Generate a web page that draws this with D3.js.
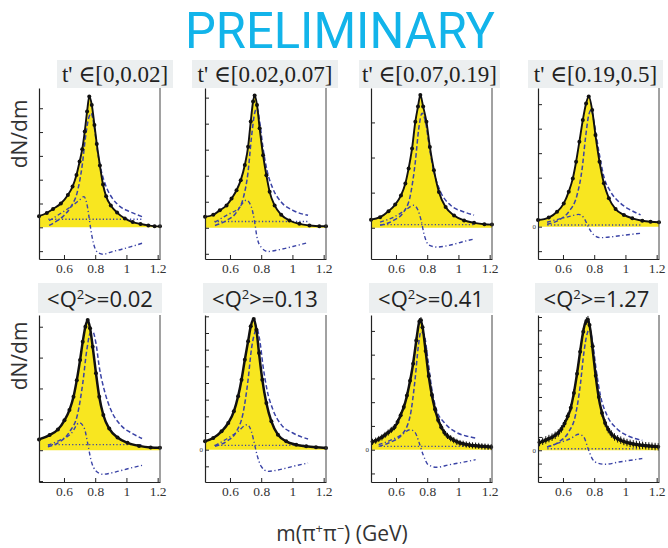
<!DOCTYPE html>
<html>
<head>
<meta charset="utf-8">
<script src="https://cdn.jsdelivr.net/npm/d3@7"></script>
<style>
  body { margin: 0; background: #fff; }
  svg { display: block; }
</style>
</head>
<body>
<script>
'use strict';

// ---- chart values (y in units of each panel's tick step) ----
const xDomain = [0.44, 1.215];
const xTicks = [0.6, 0.8, 1.0, 1.2];
const xTickLabels = ["0.6", "0.8", "1", "1.2"];

const tRanges = ["[0,0.02]", "[0.02,0.07]", "[0.07,0.19]", "[0.19,0.5]"];
const q2Values = ["0.02", "0.13", "0.41", "1.27"];

// y axis range of each panel (tick units)
const yDomains = [[-1.33, 5.85], [-1.2, 5.37], [-0.89, 3.98], [-1.32, 5.66],
                  [-1.03, 4.38], [-1.94, 8.08], [-1.36, 5.67], [-2.38, 10.15]];
const zeroLabel = [false, false, false, true, false, true, true, true];

// flat background level, drawn between 0.5 and 1.1
const bgLevels = [0.34, 0.24, 0.09, 0.07, 0.18, 0.26, 0.14, 0.12];
const bgRange = [0.5, 1.1];

// total fit (black line + yellow area), also the data points of panels 1-6
const fit1 = [[0.44,0.47],[0.49,0.6],[0.53,0.77],[0.58,1.0],[0.625,1.36],[0.655,1.71],[0.68,2.2],[0.70,2.76],[0.717,3.28],[0.733,4.02],[0.748,4.86],[0.762,5.49],[0.778,5.14],[0.795,4.3],[0.81,3.5],[0.83,2.6],[0.85,1.8],[0.87,1.3],[0.90,0.92],[0.94,0.62],[0.99,0.37],[1.04,0.22],[1.09,0.14],[1.14,0.08],[1.18,0.05],[1.215,0.04]];
const fit2 = [[0.44,0.42],[0.493,0.5],[0.535,0.67],[0.578,0.86],[0.61,1.12],[0.642,1.44],[0.669,1.83],[0.695,2.41],[0.716,3.11],[0.733,4.08],[0.748,4.85],[0.758,5.08],[0.773,4.72],[0.79,3.82],[0.812,2.79],[0.833,2.02],[0.854,1.38],[0.886,0.86],[0.928,0.5],[0.981,0.28],[1.045,0.15],[1.109,0.09],[1.172,0.06],[1.215,0.06]];
const fit3 = [[0.44,0.23],[0.498,0.3],[0.552,0.47],[0.595,0.66],[0.632,0.92],[0.66,1.26],[0.681,1.69],[0.703,2.26],[0.724,3.02],[0.741,3.45],[0.756,3.78],[0.774,3.45],[0.795,3.02],[0.817,2.3],[0.843,1.64],[0.875,1.02],[0.918,0.59],[0.972,0.35],[1.036,0.21],[1.1,0.14],[1.166,0.1],[1.215,0.09]];
const fit4 = [[0.44,0.27],[0.509,0.37],[0.562,0.61],[0.605,0.95],[0.637,1.43],[0.663,1.97],[0.684,2.65],[0.705,3.47],[0.727,4.35],[0.748,5.03],[0.765,5.31],[0.787,4.76],[0.808,3.74],[0.834,2.65],[0.862,1.77],[0.894,1.16],[0.937,0.72],[0.99,0.48],[1.044,0.34],[1.108,0.24],[1.161,0.2],[1.215,0.18]];
const fit5 = [[0.44,0.35],[0.508,0.49],[0.561,0.67],[0.603,0.97],[0.635,1.3],[0.661,1.73],[0.682,2.27],[0.703,2.92],[0.72,3.51],[0.737,4.0],[0.752,4.22],[0.767,3.95],[0.784,3.35],[0.805,2.49],[0.826,1.73],[0.852,1.14],[0.89,0.7],[0.943,0.41],[1.007,0.24],[1.081,0.14],[1.155,0.09],[1.215,0.08]];
const fit6 = [[0.44,0.5],[0.493,0.7],[0.546,1.1],[0.589,1.6],[0.625,2.3],[0.652,3.2],[0.674,4.2],[0.695,5.4],[0.716,6.5],[0.733,7.4],[0.752,7.84],[0.769,7.2],[0.786,5.8],[0.807,4.2],[0.833,2.8],[0.865,1.7],[0.907,0.9],[0.96,0.5],[1.024,0.3],[1.088,0.2],[1.151,0.14],[1.215,0.1]];
const fit7 = [[0.44,0.31],[0.499,0.49],[0.552,0.73],[0.595,0.98],[0.626,1.4],[0.658,1.96],[0.683,2.66],[0.705,3.43],[0.722,4.2],[0.738,4.97],[0.753,5.48],[0.77,5.17],[0.789,4.2],[0.81,3.08],[0.838,2.03],[0.87,1.26],[0.912,0.7],[0.965,0.42],[1.029,0.25],[1.092,0.18],[1.156,0.14],[1.215,0.11]];
const fit8 = [[0.44,0.55],[0.487,0.75],[0.541,1.05],[0.583,1.5],[0.62,2.25],[0.648,3.1],[0.669,4.25],[0.69,5.75],[0.708,7.25],[0.727,8.75],[0.744,9.6],[0.759,9.8],[0.776,9.0],[0.793,7.25],[0.813,5.25],[0.836,3.5],[0.868,2.1],[0.905,1.3],[0.958,0.8],[1.022,0.55],[1.087,0.4],[1.151,0.33],[1.215,0.25]];

// denser data points of the two high-Q2 panels, with error size
const pts7 = [[0.45,0.33],[0.47,0.38],[0.49,0.45],[0.51,0.52],[0.53,0.62],[0.55,0.72],[0.57,0.83],[0.59,0.95],[0.61,1.17],[0.63,1.45],[0.65,1.8],[0.67,2.28],[0.69,2.9],[0.71,3.62],[0.73,4.6],[0.75,5.4],[0.76,5.45],[0.77,5.15],[0.79,4.15],[0.81,3.1],[0.83,2.3],[0.85,1.7],[0.87,1.25],[0.89,0.95],[0.91,0.72],[0.93,0.58],[0.95,0.48],[0.97,0.4],[0.99,0.33],[1.01,0.28],[1.03,0.25],[1.05,0.22],[1.07,0.2],[1.09,0.18],[1.11,0.17],[1.13,0.16],[1.15,0.14],[1.17,0.13],[1.19,0.12],[1.21,0.11]];
const pts8 = [[0.45,0.58],[0.47,0.68],[0.49,0.78],[0.51,0.88],[0.53,0.98],[0.55,1.12],[0.57,1.3],[0.59,1.6],[0.61,2.0],[0.63,2.55],[0.65,3.2],[0.67,4.3],[0.69,5.75],[0.71,7.4],[0.73,8.9],[0.75,9.7],[0.76,9.8],[0.77,9.4],[0.79,7.8],[0.81,5.6],[0.83,4.0],[0.85,2.8],[0.87,2.05],[0.89,1.55],[0.91,1.22],[0.93,1.0],[0.95,0.86],[0.97,0.76],[0.99,0.66],[1.01,0.58],[1.03,0.52],[1.05,0.48],[1.07,0.44],[1.09,0.4],[1.11,0.37],[1.13,0.34],[1.15,0.32],[1.17,0.3],[1.19,0.28],[1.21,0.26]];
const errSizes = [0, 0, 0, 0, 0, 0, 0.13, 0.28];

// rho Breit-Wigner (dashed)
const bw1 = [[0.505,0.08],[0.55,0.25],[0.6,0.5],[0.645,0.87],[0.686,1.5],[0.717,2.62],[0.737,3.74],[0.758,4.58],[0.774,4.79],[0.795,4.16],[0.815,3.18],[0.84,2.34],[0.87,1.71],[0.91,1.22],[0.96,0.87],[1.02,0.66],[1.1,0.45]];
const bw2 = [[0.504,0.09],[0.578,0.28],[0.642,0.6],[0.684,1.12],[0.716,2.15],[0.737,3.44],[0.758,4.4],[0.773,4.6],[0.79,4.08],[0.812,3.05],[0.837,2.21],[0.875,1.5],[0.928,0.99],[1.003,0.67],[1.1,0.48]];
const bw3 = [[0.498,0.07],[0.584,0.21],[0.649,0.45],[0.692,0.92],[0.724,1.88],[0.746,2.83],[0.767,3.26],[0.789,3.02],[0.815,2.26],[0.843,1.59],[0.886,1.02],[0.95,0.64],[1.036,0.45],[1.1,0.36]];
const bw4 = [[0.498,0.1],[0.573,0.27],[0.637,0.61],[0.69,1.29],[0.723,2.38],[0.744,3.61],[0.765,4.56],[0.78,4.76],[0.802,4.15],[0.83,3.06],[0.862,2.04],[0.905,1.43],[0.969,0.95],[1.033,0.68],[1.097,0.48]];
const bw5 = [[0.497,0.11],[0.572,0.27],[0.635,0.59],[0.688,1.19],[0.72,2.16],[0.746,3.24],[0.767,3.78],[0.784,3.84],[0.805,3.46],[0.826,2.7],[0.858,1.95],[0.901,1.3],[0.964,0.81],[1.039,0.54],[1.1,0.38]];
const bw6 = [[0.504,0.2],[0.578,0.5],[0.642,1.1],[0.684,2.2],[0.716,4.2],[0.737,6.0],[0.758,7.0],[0.773,7.24],[0.79,6.6],[0.812,5.0],[0.837,3.6],[0.875,2.4],[0.928,1.5],[1.003,1.0],[1.1,0.64]];
const bw7 = [[0.489,0.14],[0.563,0.31],[0.637,0.63],[0.69,1.4],[0.722,2.94],[0.743,4.34],[0.76,4.97],[0.781,4.83],[0.802,3.92],[0.827,2.66],[0.859,1.68],[0.912,1.12],[0.986,0.73],[1.06,0.56],[1.11,0.49]];
const bw8 = [[0.498,0.25],[0.573,0.62],[0.637,1.38],[0.68,2.63],[0.712,5.0],[0.733,7.25],[0.755,8.75],[0.77,9.1],[0.791,8.0],[0.813,6.0],[0.84,4.1],[0.883,2.6],[0.947,1.6],[1.022,1.05],[1.108,0.75]];

// interference term (dash-dot)
const int1 = [[0.505,0.28],[0.58,0.59],[0.645,0.87],[0.7,1.15],[0.727,1.29],[0.748,0.94],[0.76,0.45],[0.772,-0.1],[0.79,-0.7],[0.815,-1.05],[0.85,-1.13],[0.91,-1.02],[0.97,-0.92],[1.03,-0.81],[1.1,-0.67]];
const int2 = [[0.504,0.22],[0.578,0.48],[0.652,0.73],[0.705,1.06],[0.737,0.8],[0.758,0.22],[0.773,-0.36],[0.8,-0.75],[0.843,-0.91],[0.918,-0.84],[1.003,-0.72],[1.1,-0.57]];
const int3 = [[0.498,0.16],[0.584,0.3],[0.66,0.5],[0.713,0.64],[0.739,0.52],[0.761,0.21],[0.782,-0.22],[0.81,-0.49],[0.864,-0.55],[0.95,-0.49],[1.036,-0.39],[1.1,-0.32]];
const int4 = [[0.498,0.18],[0.573,0.31],[0.637,0.41],[0.701,0.5],[0.733,0.37],[0.765,-0.04],[0.798,-0.34],[0.84,-0.45],[0.915,-0.41],[1.0,-0.34],[1.097,-0.27]];
const int5 = [[0.497,0.16],[0.572,0.32],[0.646,0.54],[0.699,0.89],[0.731,0.7],[0.752,0.22],[0.773,-0.32],[0.805,-0.67],[0.848,-0.78],[0.933,-0.7],[1.017,-0.59],[1.1,-0.49]];
const int6 = [[0.504,0.24],[0.578,0.64],[0.652,1.1],[0.71,1.5],[0.737,1.1],[0.758,0.3],[0.773,-0.3],[0.8,-1.0],[0.843,-1.3],[0.918,-1.2],[1.003,-1.0],[1.1,-0.8]];
const int7 = [[0.489,0.21],[0.563,0.39],[0.637,0.63],[0.69,0.84],[0.722,0.73],[0.749,0.28],[0.774,-0.21],[0.806,-0.63],[0.859,-0.74],[0.944,-0.63],[1.029,-0.53],[1.11,-0.42]];
const int8 = [[0.498,0.25],[0.573,0.55],[0.648,0.88],[0.701,1.2],[0.733,1.0],[0.761,0.12],[0.787,-0.62],[0.819,-0.95],[0.872,-1.05],[0.958,-0.88],[1.033,-0.75],[1.108,-0.62]];

(function() {

  const fits = [fit1, fit2, fit3, fit4, fit5, fit6, fit7, fit8];
  const dots = [fit1, fit2, fit3, fit4, fit5, fit6, pts7, pts8];
  const bws = [bw1, bw2, bw3, bw4, bw5, bw6, bw7, bw8];
  const ints = [int1, int2, int3, int4, int5, int6, int7, int8];

  // layout
  const W = 668, H = 548;
  const plotLeft = [39, 205, 371, 538];
  const plotW = 121;
  const rowTop = [88, 315];
  const rowBottom = [259, 482];
  const boxTop = [[57, 173], [192, 338], [359, 500], [528, 663]];
  const boxBottom = [[38, 162], [203, 327], [369, 493], [535, 658]];

  const yellow = "#f8e620";
  const blue = "#3a43a6";
  const sans = "'Open Sans', 'Noto Sans', sans-serif";
  const serif = "'Liberation Serif', 'DejaVu Serif', serif";

  let svg = d3.select('body').append('svg')
    .attr('width', W)
    .attr('height', H);

  svg.append('rect').attr('width', W).attr('height', H).attr('fill', '#fff');

  // big PRELIMINARY header
  svg.append('text')
    .attr('x', 185)
    .attr('y', 48)
    .attr('textLength', 310)
    .attr('lengthAdjust', 'spacingAndGlyphs')
    .style('font-family', "Roboto, 'Open Sans', sans-serif")
    .style('font-size', '50px')
    .style('fill', '#12b4ea')
    .text('PRELIMINARY');

  for (let i = 0; i < 8; i++) {
    drawPanel(i);
  }

  // panel titles
  boxTop.forEach((b, j) => {
    svg.append('rect')
      .attr('x', b[0]).attr('y', 60)
      .attr('width', b[1] - b[0]).attr('height', 28)
      .attr('fill', '#eceff0');
    svg.append('text')
      .attr('x', (b[0] + b[1]) / 2)
      .attr('y', 82)
      .attr('text-anchor', 'middle')
      .style('font-family', serif)
      .style('font-size', '23px')
      .style('fill', '#222')
      .text("t' \u2208" + tRanges[j]);
  });

  boxBottom.forEach((b, j) => {
    svg.append('rect')
      .attr('x', b[0]).attr('y', 283)
      .attr('width', b[1] - b[0]).attr('height', 30)
      .attr('fill', '#eceff0');
    let t = svg.append('text')
      .attr('x', (b[0] + b[1]) / 2)
      .attr('y', 307)
      .attr('text-anchor', 'middle')
      .style('font-family', sans)
      .style('font-size', '22px')
      .style('fill', '#222');
    t.append('tspan').text('<Q');
    t.append('tspan').attr('dy', -8).style('font-size', '13px').text('2');
    t.append('tspan').attr('dy', 8).text('>=' + q2Values[j]);
  });

  // y labels
  [134, 356].forEach((cy) => {
    svg.append('text')
      .attr('transform', 'translate(27,' + cy + ')rotate(-90)')
      .attr('text-anchor', 'middle')
      .style('font-family', sans)
      .style('font-size', '21px')
      .style('fill', '#333')
      .text('dN/dm');
  });

  // x label
  let xl = svg.append('text')
    .attr('x', 342)
    .attr('y', 541)
    .attr('text-anchor', 'middle')
    .style('font-family', sans)
    .style('font-size', '21px')
    .style('fill', '#333');
  xl.append('tspan').text('m(\u03c0');
  xl.append('tspan').attr('dy', -8).style('font-size', '13px').text('+');
  xl.append('tspan').attr('dy', 8).text('\u03c0');
  xl.append('tspan').attr('dy', -8).style('font-size', '13px').text('\u2212');
  xl.append('tspan').attr('dy', 8).text(') (GeV)');

  // one sub plot
  function drawPanel(i) {
    const row = i < 4 ? 0 : 1;
    const L = plotLeft[i % 4];
    const top = rowTop[row], bottom = rowBottom[row];

    let x = d3.scaleLinear().domain(xDomain).range([L, L + plotW]);
    let y = d3.scaleLinear().domain(yDomains[i]).range([bottom, top]);

    let g = svg.append('g');

    // yellow area under the total fit
    let area = d3.area()
      .x((d) => x(d[0]))
      .y0(y(0))
      .y1((d) => y(d[1]))
      .curve(d3.curveMonotoneX);
    g.append('path')
      .datum(fits[i])
      .attr('d', area)
      .attr('fill', yellow);

    let line = d3.line()
      .x((d) => x(d[0]))
      .y((d) => y(d[1]))
      .curve(d3.curveMonotoneX);

    // background (dotted)
    g.append('path')
      .datum(bgRange.map((v) => [v, bgLevels[i]]))
      .attr('d', line)
      .attr('fill', 'none')
      .attr('stroke', blue)
      .attr('stroke-width', 1.4)
      .attr('stroke-dasharray', '1.2,2.2');

    // interference (dash-dot)
    g.append('path')
      .datum(ints[i])
      .attr('d', line)
      .attr('fill', 'none')
      .attr('stroke', blue)
      .attr('stroke-width', 1.4)
      .attr('stroke-dasharray', '4,2.5,1.2,2.5');

    // Breit-Wigner (dashed)
    g.append('path')
      .datum(bws[i])
      .attr('d', line)
      .attr('fill', 'none')
      .attr('stroke', blue)
      .attr('stroke-width', 1.5)
      .attr('stroke-dasharray', '4.5,2.5');

    // total fit
    g.append('path')
      .datum(fits[i])
      .attr('d', line)
      .attr('fill', 'none')
      .attr('stroke', '#111')
      .attr('stroke-width', row === 0 ? 1.9 : 2.5);

    // data points
    const e = errSizes[i];
    if (e > 0) {
      g.selectAll('.err')
        .data(dots[i])
        .enter()
        .append('line')
          .attr('x1', (d) => x(d[0]))
          .attr('x2', (d) => x(d[0]))
          .attr('y1', (d) => y(d[1] - e))
          .attr('y2', (d) => y(d[1] + e))
          .attr('stroke', '#111')
          .attr('stroke-width', 1);
    }
    g.selectAll('.dot')
      .data(dots[i])
      .enter()
      .append('circle')
        .attr('cx', (d) => x(d[0]))
        .attr('cy', (d) => y(d[1]))
        .attr('r', 2)
        .attr('fill', '#111');

    // axes
    let xAxis = d3.axisBottom(x)
      .tickValues(xTicks)
      .tickFormat((d, j) => xTickLabels[j])
      .tickSizeInner(-4)
      .tickSizeOuter(0)
      .tickPadding(4);
    let ax = g.append('g')
      .attr('transform', 'translate(0,' + bottom + ')')
      .call(xAxis);
    ax.selectAll('text')
      .style('font-family', serif)
      .style('font-size', '13.5px')
      .style('fill', '#333');

    const yd = yDomains[i];
    const yTicks = d3.range(Math.ceil(yd[0]), Math.floor(yd[1]) + 1);
    let yAxis = d3.axisLeft(y)
      .tickValues(yTicks)
      .tickFormat((d) => (zeroLabel[i] && d === 0) ? '0' : '')
      .tickSizeInner(-4)
      .tickSizeOuter(0)
      .tickPadding(2);
    let ay = g.append('g')
      .attr('transform', 'translate(' + L + ',0)')
      .call(yAxis);
    ay.selectAll('text')
      .style('font-family', serif)
      .style('font-size', '7px')
      .style('fill', '#333');

    [ax, ay].forEach((a) => {
      a.select('.domain').attr('stroke', '#222').attr('stroke-width', 1.2);
      a.selectAll('.tick line').attr('stroke', '#222');
    });

    // right frame line
    g.append('line')
      .attr('x1', L + plotW).attr('x2', L + plotW)
      .attr('y1', top).attr('y2', bottom)
      .attr('stroke', '#444')
      .attr('stroke-width', 1);
  }

})();
</script>
</body>
</html>
